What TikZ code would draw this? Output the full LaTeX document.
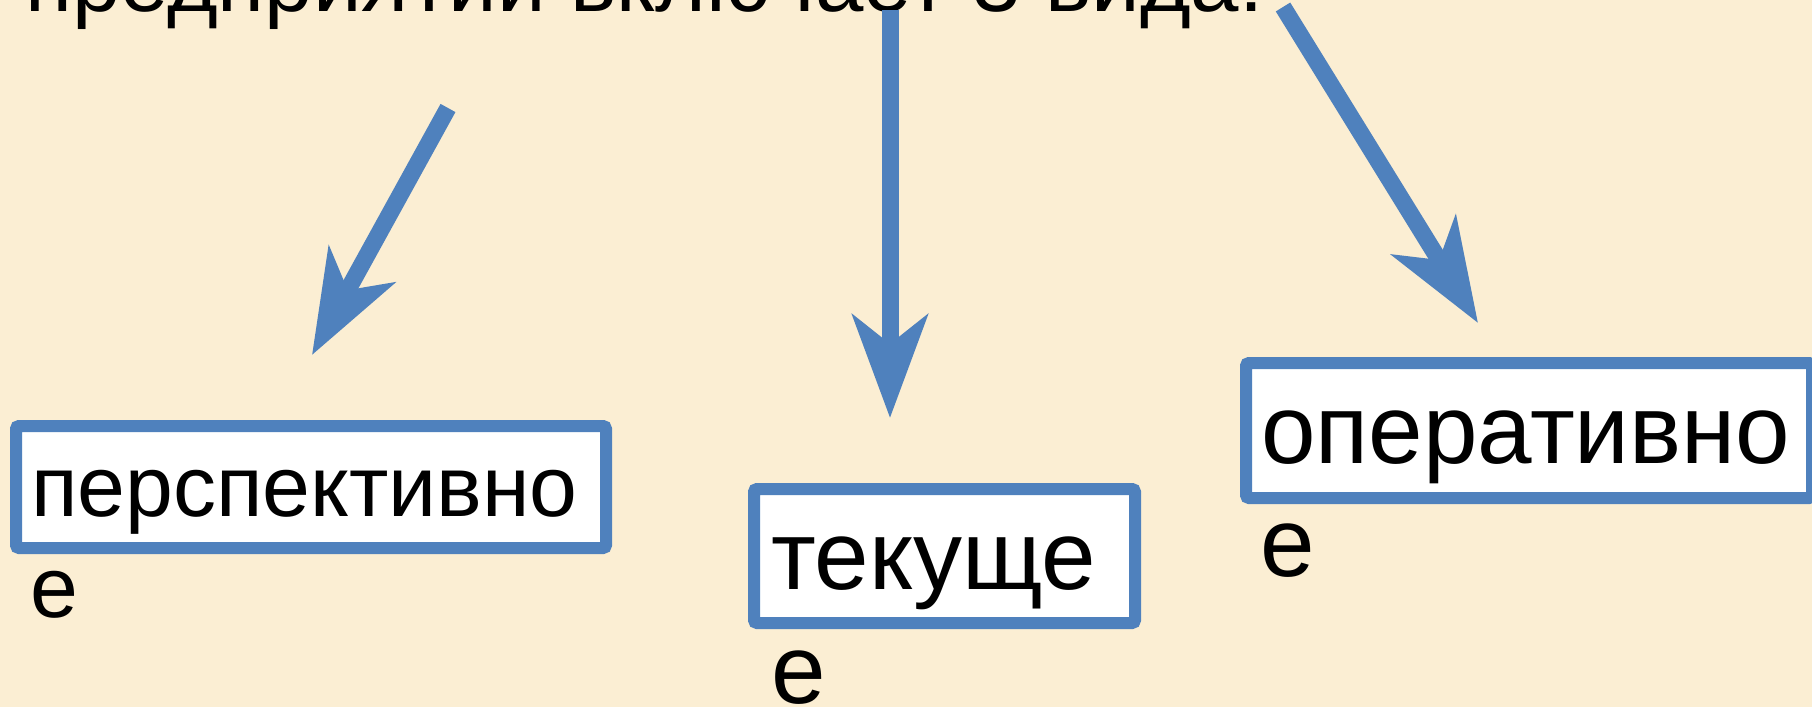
\documentclass[tikz,border=0pt]{standalone}
\usepackage{fontspec}
\setmainfont{Liberation Sans}
\usetikzlibrary{arrows.meta}
\definecolor{myblue}{HTML}{4F81BD}
\definecolor{parch}{HTML}{FBEED3}
\tikzset{
  pbox/.style={draw=myblue, line width=12pt, fill=white, rectangle, rounded corners=3pt, inner sep=0pt, outer sep=0pt},
  word/.style={anchor=base west, inner sep=0pt, outer sep=0pt, text=black},
  bigw/.style={word, font=\fontsize{98}{113}\selectfont},
  smallw/.style={word, font=\fontsize{86}{101}\selectfont},
  titlew/.style={word, font=\fontsize{87}{100}\selectfont},
  arr/.style={draw=myblue, line width=17pt, -{Stealth[length=103pt,width=75pt,inset=29pt]}}
}
\begin{document}
\begin{tikzpicture}[x=1pt,y=-1pt]
\useasboundingbox (0,0) rectangle (1812,707);
\clip (0,0) rectangle (1812,707);
\fill[parch] (0,0) rectangle (1812,707);
% title (cut off at top)
\node[titlew] (title) at (25,11) {предприятии включает 3 вида:};
% arrows
\coordinate (s1) at (448,108); \coordinate (e1) at (312,355);
\coordinate (s2) at (890,10);  \coordinate (e2) at (890,418);
\coordinate (s3) at (1283,7);  \coordinate (e3) at (1478,323);
\draw[arr] (s1) -- (e1);
\draw[arr] (s2) -- (e2);
\draw[arr] (s3) -- (e3);
% boxes
\node[pbox, minimum width=590pt, minimum height=122pt] (b1) at (311,487) {};
\node[pbox, minimum width=381pt, minimum height=134pt] (b2) at (944.5,556) {};
\node[pbox, minimum width=566pt, minimum height=135pt] (b3) at (1529,430.5) {};
% texts
\node[smallw] (t1a) at (31,516) {перспективно};
\node[smallw] (t1b) at (30,617) {е};
\node[bigw] (t2a) at (771,589) {текуще};
\node[bigw] (t2b) at (771,703) {е};
\node[bigw] (t3a) at (1261,463) {оперативно};
\node[bigw] (t3b) at (1260,576) {е};
\end{tikzpicture}
\end{document}
